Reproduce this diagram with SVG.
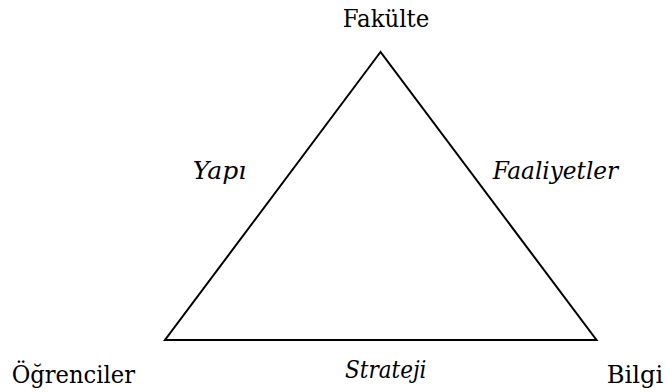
<svg xmlns="http://www.w3.org/2000/svg" width="666" height="392" viewBox="0 0 666 392">
<style>
text{font-family:'DejaVu Serif',serif;font-size:25px;fill:#000}
.i{font-style:italic}
.edge{fill:none;stroke:#000;stroke-width:2}
</style>
<rect width="666" height="392" fill="#fff"/>
<g id="connectors">
<path class="edge" d="M380.5,52 L165,340 L596.5,340 Z" stroke-linejoin="miter"/>
<text class="i" x="219.5" y="179" text-anchor="middle">Yapı</text>
<text class="i" x="492.7" y="179" textLength="125.5" lengthAdjust="spacingAndGlyphs">Faaliyetler</text>
<text class="i" x="345" y="377.7" textLength="81.5" lengthAdjust="spacingAndGlyphs">Strateji</text>
</g>
<g id="fakulte"><text x="342.7" y="27.3" textLength="86.7" lengthAdjust="spacingAndGlyphs">Fakülte</text></g>
<g id="ogrenciler"><text x="11.7" y="383.3" textLength="123.3" lengthAdjust="spacingAndGlyphs">Öğrenciler</text></g>
<g id="bilgi"><text x="606.7" y="383" textLength="56.6" lengthAdjust="spacingAndGlyphs">Bilgi</text></g>
</svg>
